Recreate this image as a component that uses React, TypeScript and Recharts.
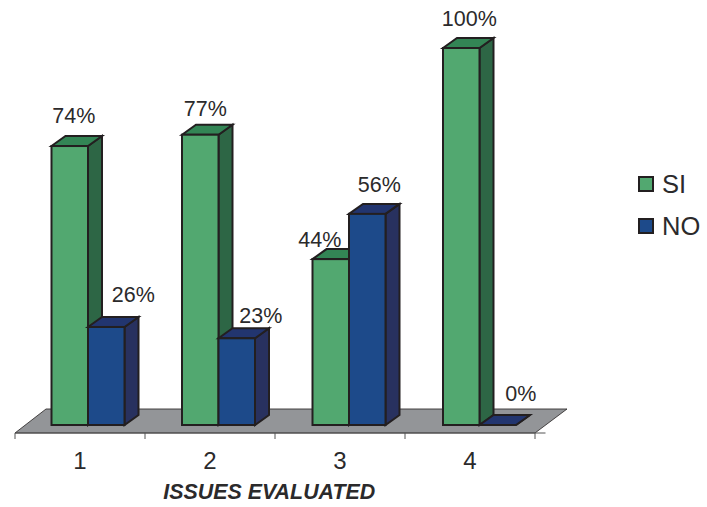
import { Bar, BarChart, Label, LabelList, Legend, ReferenceArea, XAxis, YAxis } from 'recharts';

const categories = ['1', '2', '3', '4'];
const seriesNames = ['SI', 'NO'];
const siValues = [74, 77, 44, 100];
const noValues = [26, 23, 56, 0];

const tableData = categories.map((issue, i) => ({ issue, si: siValues[i], no: noValues[i] }));

const FONT = '"Liberation Sans", Arial, sans-serif';
const INK = '#231f20';
const TEXT = '#2b2a2b';
const DEPTH_X = 14;
const DEPTH_Y = 10;

// hand placement of the value labels, they sit loosely over the bars in the original
const SI_NUDGE = [[4, -31], [5, -26], [-11, -20], [8, -30]];
const NO_NUDGE = [[27, -32], [24, -23], [12, -29], [23, -32]];

function Box3D(props: any): React.JSX.Element {
  const { x, y, width, height, fill, topFill, sideFill } = props;
  const top = `${x},${y} ${x + DEPTH_X},${y - DEPTH_Y} ${x + width + DEPTH_X},${y - DEPTH_Y} ${x + width},${y}`;
  const side = `${x + width},${y} ${x + width + DEPTH_X},${y - DEPTH_Y} ${x + width + DEPTH_X},${y + height - DEPTH_Y} ${x + width},${y + height}`;
  return (
    <g stroke={INK} strokeWidth={2} strokeLinejoin="miter">
      <polygon points={side} fill={sideFill} />
      <polygon points={top} fill={topFill} />
      <rect x={x} y={y} width={width} height={height} fill={fill} />
    </g>
  );
}

function Floor(props: any): React.JSX.Element {
  const { x, y, width, height } = props;
  const points = `${x},${y + height} ${x + 31},${y} ${x + width + 32},${y} ${x + width},${y + height}`;
  return <polygon points={points} fill="#939598" stroke={INK} strokeWidth={0.8} />;
}

function IssueTick(props: any): React.JSX.Element {
  const { x, y, payload, index } = props;
  const half = 65;
  return (
    <g>
      <line x1={x - half} x2={x - half} y1={y - 8} y2={y - 2} stroke="#555" strokeWidth={1} />
      {index === categories.length - 1 && (
        <line x1={x + half} x2={x + half} y1={y - 8} y2={y - 2} stroke="#555" strokeWidth={1} />
      )}
      <text x={x} y={y + 28} textAnchor="middle" fontSize={24} fontFamily={FONT} fill={TEXT}>
        {payload.value}
      </text>
    </g>
  );
}

function valueLabel(nudge: number[][]) {
  return function ValueLabel(props: any): React.JSX.Element {
    const { x, y, width, value, index } = props;
    const [dx, dy] = nudge[index];
    return (
      <text x={x + width / 2 + dx} y={y + dy + 7.5} textAnchor="middle" fontSize={21.5} fontFamily={FONT} fill={TEXT}>
        {value}%
      </text>
    );
  };
}

function IssueLegend({ payload }: any): React.JSX.Element {
  return (
    <div style={{ fontFamily: FONT, fontSize: 25.5, color: TEXT }}>
      {(payload ?? []).map((entry: any) => (
        <div key={entry.value} style={{ display: 'flex', alignItems: 'center', height: 42 }}>
          <span
            style={{
              display: 'inline-block',
              boxSizing: 'border-box',
              width: 16,
              height: 16,
              marginRight: 8,
              background: entry.color,
              border: `2px solid ${INK}`
            }}
          />
          {entry.value}
        </div>
      ))}
    </div>
  );
}

export default function App(): React.JSX.Element {
  return (
    <div style={{ position: 'absolute', left: 0, top: 0, width: 707, height: 507 }}>
      <BarChart
        width={707}
        height={507}
        data={tableData}
        barSize={36.5}
        barGap={0}
        margin={{ top: 48, right: 92.5, bottom: 0, left: 15 }}
      >
        <YAxis hide type="number" domain={[-2.12, 100]} />
        <XAxis
          xAxisId="axis"
          dataKey="issue"
          height={74}
          padding={{ left: 0, right: 10.5 }}
          axisLine={{ stroke: '#555', strokeWidth: 1 }}
          tickLine={false}
          tick={<IssueTick />}
          interval={0}
        >
          <Label
            value="ISSUES EVALUATED"
            position="insideBottom"
            offset={8}
            dx={-11}
            style={{ fontFamily: FONT, fontSize: 21.4, fontWeight: 700, fontStyle: 'italic', fill: TEXT }}
          />
        </XAxis>
        <XAxis xAxisId="bars" dataKey="issue" hide padding={{ left: 7.5, right: 1 }} />
        <ReferenceArea xAxisId="axis" y1={-2.12} y2={4.25} ifOverflow="visible" shape={<Floor />} />
        <Legend
          layout="vertical"
          align="right"
          verticalAlign="middle"
          width={69}
          itemSorter={(item: any) => seriesNames.indexOf(item.value)}
          content={<IssueLegend />}
          wrapperStyle={{ position: 'absolute', left: 638, top: 163, width: 69 }}
        />
        <Bar
          xAxisId="bars"
          dataKey="si"
          name={seriesNames[0]}
          fill="#52a870"
          isAnimationActive={false}
          shape={(p: any) => <Box3D {...p} topFill="#338555" sideFill="#2d6645" />}
        >
          <LabelList dataKey="si" content={valueLabel(SI_NUDGE)} />
        </Bar>
        <Bar
          xAxisId="bars"
          dataKey="no"
          name={seriesNames[1]}
          fill="#1d4a8a"
          isAnimationActive={false}
          shape={(p: any) => <Box3D {...p} topFill="#22356f" sideFill="#28315f" />}
        >
          <LabelList dataKey="no" content={valueLabel(NO_NUDGE)} />
        </Bar>
      </BarChart>
    </div>
  );
}
